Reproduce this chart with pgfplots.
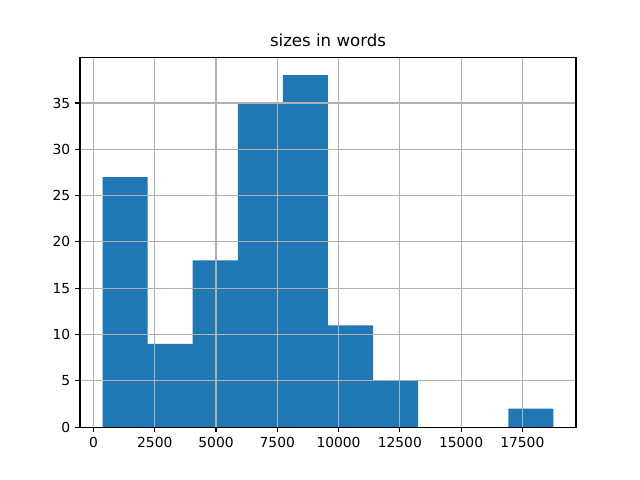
\documentclass[border=0pt]{standalone}
\usepackage{pgfplots}
\pgfplotsset{compat=1.18}
\usepackage{fontspec}
\setmainfont{DejaVu Sans}
\definecolor{mplblue}{HTML}{1F77B4}
\definecolor{mplgrid}{HTML}{B0B0B0}
\begin{document}
\begin{tikzpicture}
\path[use as bounding box] (0,0) rectangle (6.4in,4.8in);
\begin{axis}[
  at={(0.8in,0.528in)}, anchor=south west,
  scale only axis, width=4.96in, height=3.696in,
  xmin=-551, xmax=19690, ymin=0, ymax=39.9,
  xtick={0,2500,5000,7500,10000,12500,15000,17500},
  ytick={0,5,10,15,20,25,30,35},
  scaled ticks=false,
  xticklabel style={/pgf/number format/fixed},
  grid=major,
  major grid style={draw=mplgrid, line width=0.8pt},
  axis on top,
  tick align=outside, tick pos=left,
  major tick length=3.5pt,
  every tick/.style={black, line width=0.8pt},
  axis line style={line width=0.8pt},
  /pgf/number format/assume math mode=true,
  /pgf/number format/1000 sep={},
  tick label style={font=\fontsize{10}{12}\selectfont},
  title={sizes in words},
  title style={font=\fontsize{12}{14}\selectfont, yshift=-2pt},
]
\addplot[ybar interval, fill=mplblue, draw=none] coordinates {
(369,27) (2209,9) (4049,18) (5889,35) (7729,38) (9569,11) (11409,5) (13249,0) (15089,0) (16929,2) (18770,0)
};
\end{axis}
\end{tikzpicture}
\end{document}
